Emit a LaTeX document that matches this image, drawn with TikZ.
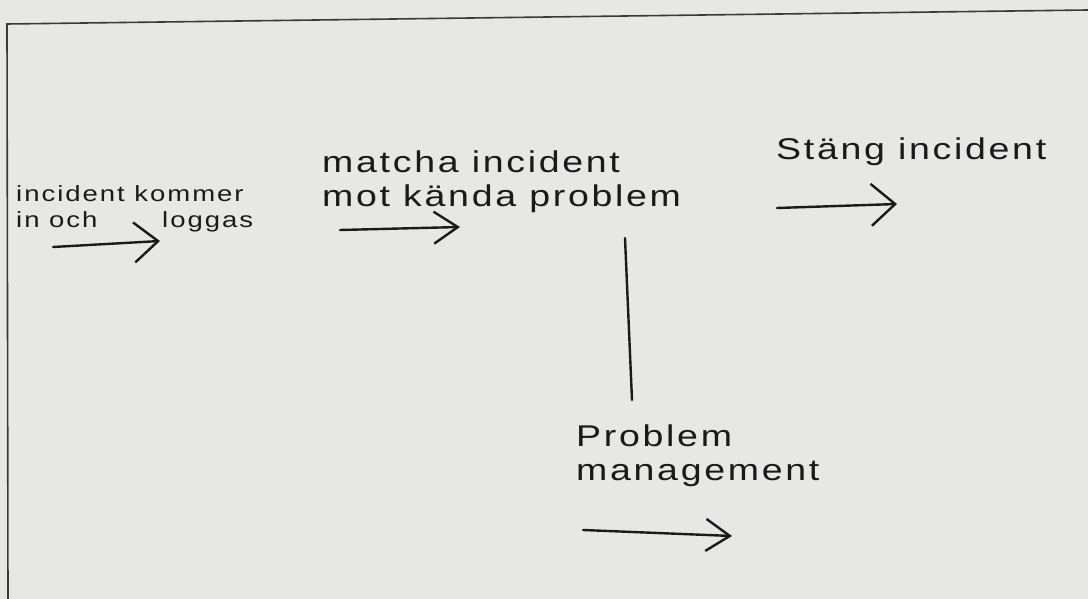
\documentclass[tikz,border=0pt]{standalone}
\usepackage{fontspec}
\setmainfont{Liberation Sans}
\newfontfamily\handfont[FakeStretch=1.25,LetterSpace=9]{Liberation Sans}
\usetikzlibrary{arrows.meta}
\definecolor{paper}{HTML}{E7E7E5}
\definecolor{ink}{HTML}{1A1A1A}
\definecolor{frameink}{HTML}{3A3A3A}
\tikzset{
  label text/.style={font=\handfont\fontsize{30}{34}\selectfont, text=ink, inner sep=0pt, align=left, anchor=base west},
  small text/.style={font=\handfont\fontsize{22}{25}\selectfont, text=ink, inner sep=0pt, anchor=base west},
  flow/.style={draw=ink, line width=2.4pt, line cap=round, -{Straight Barb[length=24pt,width=#1,line width=2.4pt]}},
  flow/.default=40pt,
  plain line/.style={draw=ink, line width=2.4pt, line cap=round},
  frame/.style={draw=frameink, line width=1.6pt}
}
\begin{document}
\begin{tikzpicture}[x=1pt,y=-1pt]
\fill[paper] (0,0) rectangle (1088,599);
\useasboundingbox (0,0) rectangle (1088,599);
% frame
\coordinate (ftl) at (7,24);
\coordinate (ftr) at (1088,10);
\coordinate (fbl) at (8,599);
\draw[frame] (ftr) -- (ftl) -- (fbl);
% texts (base anchor = baseline of last line)
\node[small text] (t1a) at (16,202) {incident kommer};
\node[small text] (t1c) at (16,228) {in och};
\node[small text] (t1b) at (162,227) {loggas};
\node[label text] (t2) at (322,207) {matcha incident\\mot kända problem};
\node[label text] (t3) at (776,160) {Stäng incident};
\node[label text] (t4) at (576,480) {Problem\\management};
% arrows
\coordinate (a1s) at (53,247);
\coordinate (a1e) at (160,241);
\draw[flow=40pt] (a1s) -- (a1e);
\coordinate (a2s) at (340,230);
\coordinate (a2e) at (460,227);
\draw[flow=32pt] (a2s) -- (a2e);
\coordinate (a3s) at (777,208);
\coordinate (a3e) at (897,204);
\draw[flow=42pt] (a3s) -- (a3e);
\coordinate (a4s) at (583,530);
\coordinate (a4e) at (732,536);
\draw[flow=32pt] (a4s) -- (a4e);
% vertical connector
\coordinate (vtop) at (625,238);
\coordinate (vbot) at (632,400);
\draw[plain line] (vtop) -- (vbot);
\end{tikzpicture}
\end{document}
